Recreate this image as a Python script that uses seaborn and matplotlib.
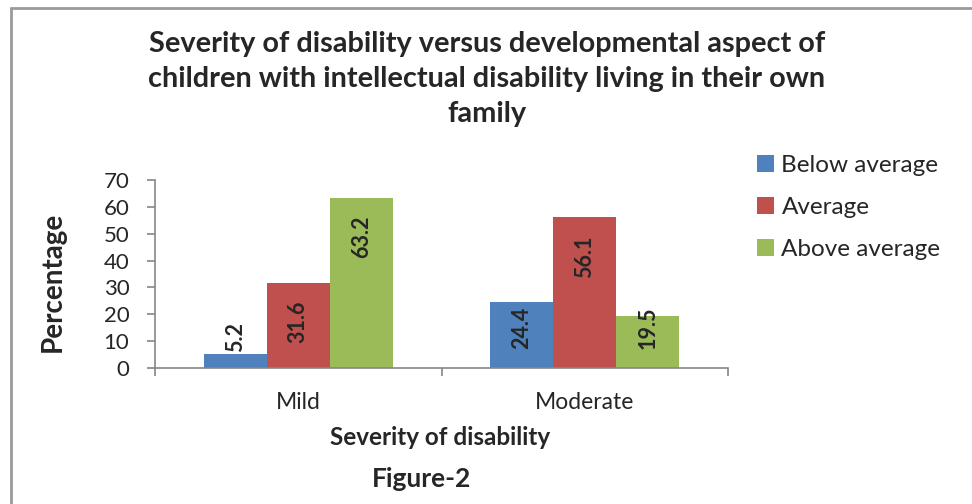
import pandas as pd
import seaborn as sns
import matplotlib.pyplot as plt
from matplotlib.lines import Line2D

# data
categories = ['Mild', 'Moderate']
levels = ['Below average', 'Average', 'Above average']
below_average = [5.2, 24.4]
average = [31.6, 56.1]
above_average = [63.2, 19.5]

colors = ['#4F81BD', '#C0504D', '#9BBB59']

df = pd.DataFrame({
    'severity': categories * 3,
    'level': [lv for lv in levels for _ in categories],
    'value': below_average + average + above_average,
})

sns.set_style('white')
plt.rcParams['font.family'] = ['Lato', 'DejaVu Sans']

fig = plt.figure(figsize=(9.72, 5.04), dpi=100)
ax = fig.add_axes([0.1595, 0.2698, 0.5895, 0.373])

sns.barplot(data=df, x='severity', y='value', hue='level', hue_order=levels,
            palette=colors, width=0.66, gap=0, saturation=1, ax=ax,
            edgecolor='none', linewidth=0, legend=True)

# value labels, rotated like the Excel original
for cont in ax.containers:
    for bar in cont:
        h = bar.get_height()
        cx = bar.get_x() + bar.get_width() / 2
        if h < 10:
            ax.annotate(f'{h:.1f}', (cx, h), xytext=(0, 1.5), textcoords='offset points',
                        rotation=90, ha='center', va='bottom', fontsize=15.5, fontweight='bold')
        else:
            ax.text(cx, max(h - 14.5, 15), f'{h:.1f}', rotation=90, ha='center',
                    va='center', fontsize=15.5, fontweight='bold')

ax.set_ylim(0, 70)
ax.set_yticks(range(0, 71, 10))
ax.set_xlim(-0.5, 1.5)
ax.set_xticks([-0.5, 0.5, 1.5], minor=False)
ax.set_xticklabels([])
ax.set_xticks([0, 1], minor=True)
ax.set_xticklabels(categories, minor=True)

for s in ['top', 'right']:
    ax.spines[s].set_visible(False)
for s in ['left', 'bottom']:
    ax.spines[s].set_color('#868686')
    ax.spines[s].set_linewidth(1.2)

ax.tick_params(axis='y', which='major', direction='out', length=5.5, color='#868686',
               width=1.2, labelsize=16, left=True, pad=13)
ax.tick_params(axis='x', which='major', direction='out', length=6, color='#868686',
               width=1.2, bottom=True)
ax.tick_params(axis='x', which='minor', length=0, labelsize=16.5, pad=17)

ax.set_xlabel('Severity of disability', fontsize=17.5, fontweight='bold')
ax.xaxis.set_label_coords(0.497, -0.31)
ax.set_ylabel('Percentage', fontsize=20, fontweight='bold')
ax.yaxis.set_label_coords(-0.178, 0.46)
ax.yaxis.label.set_va('center')

# legend
handles, labels = ax.get_legend_handles_labels()
ax.legend_.remove()
fig.legend(handles, labels, loc='upper left', bbox_to_anchor=(0.769, 0.712),
           frameon=False, fontsize=17.5, handlelength=0.7, handleheight=0.7,
           handletextpad=0.3, labelspacing=0.86, borderaxespad=0)

fig.text(0.501, 0.938,
         'Severity of disability versus developmental aspect of\n'
         'children with intellectual disability living in their own\n'
         'family',
         ha='center', va='top', fontsize=20.8, fontweight='bold', linespacing=1.42)

fig.text(0.434, 0.05, 'Figure-2', ha='center', va='center', fontsize=19, fontweight='bold')

# outer frame
fig.add_artist(Line2D([0.0113, 0.0113], [0, 0.984], transform=fig.transFigure,
                      color='#9a9a9a', linewidth=2))
fig.add_artist(Line2D([0.0113, 1], [0.984, 0.984], transform=fig.transFigure,
                      color='#9a9a9a', linewidth=2))

plt.savefig('out.png', dpi=100)
